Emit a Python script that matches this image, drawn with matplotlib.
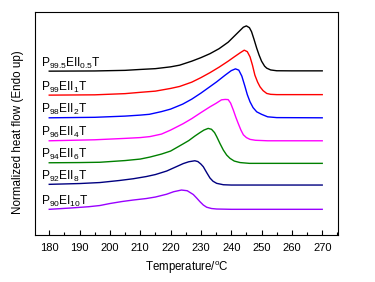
import matplotlib
matplotlib.use("Agg")
import matplotlib.pyplot as plt
from matplotlib.ticker import MultipleLocator

plt.rcParams['font.family'] = ['Liberation Sans', 'DejaVu Sans']
plt.rcParams['mathtext.default'] = 'regular'

# Temperature (°C) and normalized heat flow (arbitrary units, stacked)
T_black = [180, 195, 205, 210, 215, 220, 223, 227, 230, 233, 236, 239, 241, 243, 244, 245, 246, 246.7, 247.5, 248.4, 249.2, 250, 251, 251.7, 253, 255, 260, 270]
H_black = [164, 164.2, 164.8, 165.7, 166.5, 168.3, 170, 174, 177.5, 181.5, 186.5, 193, 199, 205, 208, 209.3, 207.5, 203.5, 196, 187, 180, 174, 169, 167, 165.2, 164.4, 164.3, 164.3]

T_red = [180, 195, 205, 210, 215, 220, 223, 227, 230, 233, 236, 239, 241, 243, 244.3, 245.3, 246.2, 247, 247.8, 248.7, 249.5, 250.5, 251.7, 253, 255, 270]
H_red = [140, 140.3, 141.5, 142.8, 144, 146.7, 148.7, 153, 157.5, 162.5, 168, 174, 178.3, 182.5, 185, 183.5, 178.3, 170, 160, 153, 148.3, 144.5, 141.7, 140.8, 140.5, 140.5]

T_blue = [180, 195, 205, 210, 213, 217, 220, 224, 227, 230, 233, 235.2, 238, 240, 241.4, 242.5, 243.5, 244.5, 245.3, 246.2, 247.2, 248.4, 250, 252, 255, 270]
H_blue = [117.3, 117.8, 119, 120, 120.8, 123.5, 126, 131, 136, 142, 148.5, 153.3, 160, 164.5, 166.3, 165, 159, 149, 140.5, 133.3, 127.5, 123.3, 120.8, 118.3, 117.5, 117.3]

T_mag = [180, 195, 205, 210, 213.2, 217, 220, 224.2, 227, 230, 233, 235, 236.8, 238, 239, 239.8, 240.7, 241.5, 242.3, 243.2, 244, 245, 246.2, 248, 252, 270]
H_mag = [94.3, 95.3, 96.7, 97.5, 98.5, 101, 105, 111.5, 116.5, 122.5, 128.3, 131.8, 135.3, 135.7, 135.5, 132, 125, 118, 111.7, 105, 100.3, 97.5, 95.7, 94.8, 94.3, 94.3]

T_green = [180, 190, 196.7, 205, 210, 213.2, 217, 220, 224.2, 226, 228, 229.7, 231, 232.4, 233.5, 234.5, 235.2, 236.3, 237.4, 238.5, 239.6, 241, 242.9, 246, 270]
H_green = [72.3, 72.5, 72.8, 74.5, 76, 78, 81, 84, 91.3, 94.5, 99, 102.5, 105, 106.7, 105.8, 102.5, 98.5, 91.5, 85, 80, 76.7, 74, 72.5, 71.7, 71.7]

T_navy = [180, 190, 196.7, 203, 207.7, 212, 215, 218.7, 222, 224.2, 226, 228, 229, 230, 230.8, 232, 233, 234, 235.2, 237.4, 240, 270]
H_navy = [50.7, 51.5, 52.5, 54.5, 56.3, 58.5, 60.5, 64, 68.5, 71.5, 73.3, 74.3, 73.5, 71, 68.3, 62, 57, 53.8, 51.7, 50.3, 50, 50]

T_purple = [180, 187, 193, 196.7, 200, 204, 207.7, 212, 215, 218.7, 221, 223.6, 225.5, 227.5, 228.6, 229.7, 230.8, 231.9, 233.5, 235.2, 240, 270]
H_purple = [25.7, 27, 28.3, 29.5, 31.5, 33.5, 35, 36.5, 38, 40.8, 43.3, 45, 44.3, 40.5, 37, 33.3, 30, 27.8, 26.5, 26, 25.7, 25.7]

labels = [r'P$_{99.5}$EII$_{0.5}$T', r'P$_{99}$EII$_{1}$T', r'P$_{98}$EII$_{2}$T',
          r'P$_{96}$EII$_{4}$T', r'P$_{94}$EII$_{6}$T', r'P$_{92}$EII$_{8}$T',
          r'P$_{90}$EI$_{10}$T']
colors = ['black', '#ff0000', '#0000ff', '#ff00ff', '#008000', '#000080', '#9900ff']
series = [(T_black, H_black), (T_red, H_red), (T_blue, H_blue), (T_mag, H_mag),
          (T_green, H_green), (T_navy, H_navy), (T_purple, H_purple)]

fig = plt.figure(figsize=(3.75, 2.82), dpi=100)
ax = fig.add_axes([0.0933, 0.1667, 0.808, 0.79])

for (t, h), c, lab in zip(series, colors, labels):
    ax.plot(t, h, color=c, lw=1.0)
    ax.text(177.3, h[0] + 0.6, lab, color='black', fontsize=8.6, va='bottom', ha='left')

ax.set_xlim(175.3, 275.2)
ax.set_ylim(0, 223)
ax.xaxis.set_major_locator(MultipleLocator(10))
ax.xaxis.set_minor_locator(MultipleLocator(5))
ax.tick_params(axis='x', which='major', direction='in', length=3.5, width=0.8, labelsize=8, pad=5.5)
ax.tick_params(axis='x', which='minor', direction='in', length=2, width=0.8)
ax.set_yticks([])
for s in ax.spines.values():
    s.set_linewidth(0.8)
ax.set_xlabel('Temperature/$^{o}$C', fontsize=8.3, labelpad=5)
ax.set_ylabel('Normalized heat flow (Endo up)', fontsize=8.4, labelpad=4)
ax.yaxis.set_label_coords(-0.037, 0.462)

fig.savefig('out.png', dpi=100)
